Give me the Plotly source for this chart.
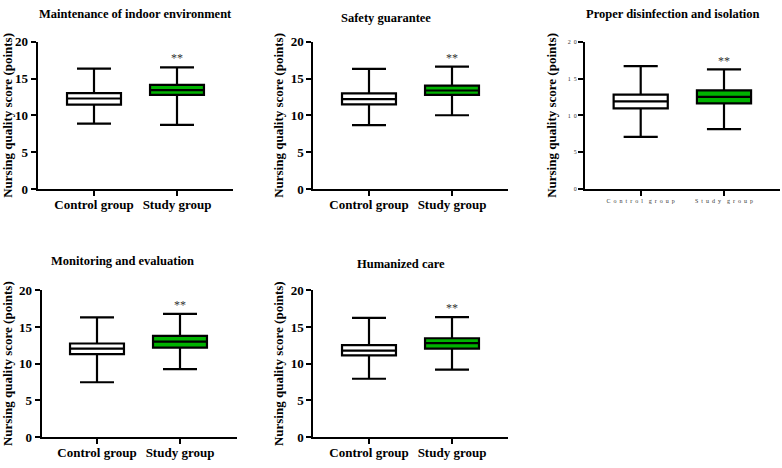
import plotly.graph_objects as go

W, H = 782, 468
groups = ["Control group", "Study group"]
titles = ["Maintenance of indoor environment", "Safety guarantee",
          "Proper disinfection and isolation", "Monitoring and evaluation",
          "Humanized care"]
# per panel: [control, study] stats
lower = [[8.88, 8.71], [8.67, 10.02], [7.08, 8.13], [7.47, 9.27], [7.95, 9.18]]
q1 = [[11.47, 12.78], [11.51, 12.78], [10.95, 11.65], [11.30, 12.18], [11.13, 12.05]]
median = [[12.30, 13.44], [12.21, 13.39], [11.91, 12.53], [12.04, 13.01], [11.79, 12.80]]
q3 = [[13.04, 14.14], [13.00, 14.05], [12.83, 13.41], [12.75, 13.80], [12.54, 13.47]]
upper = [[16.37, 16.54], [16.32, 16.63], [16.70, 16.26], [16.31, 16.79], [16.25, 16.34]]
yticks = [0, 5, 10, 15, 20]
sig = "**"

# pixel geometry of each panel: x-left, x-right, y(20), y(0)
geom = [(37.7, 233, 36, 188), (313.3, 508, 36, 188), (585, 780, 36, 188),
        (41.7, 237, 292.7, 444.3), (313.3, 508, 292.7, 444.3)]
title_pos = [(135, 7), (386, 11), (673, 7), (123, 262), (401, 266)]
tick_px = [(94, 177), (369, 452), (640.7, 724), (97, 180), (369, 452)]

FONT = "Liberation Serif"
fig = go.Figure()
colors = ["white", "#00b300"]


def spaced(s):
    return "\u2003".join("\u2002".join(w) for w in s.split(" "))


for i in range(5):
    xl, xr, yt, yb = geom[i]
    ax = "" if i == 0 else str(i + 1)
    t0, t1 = tick_px[i]
    unit = (t1 - t0)
    r0 = -(t0 - xl) / unit
    r1 = 1 + (xr - t1) / unit
    for g in range(2):
        fig.add_trace(go.Box(
            x=[groups[g]], q1=[q1[i][g]], median=[median[i][g]], q3=[q3[i][g]],
            lowerfence=[lower[i][g]], upperfence=[upper[i][g]],
            fillcolor=colors[g], line=dict(color="black", width=2.2),
            width=0.65, whiskerwidth=0.63, boxpoints=False,
            xaxis="x" + ax, yaxis="y" + ax, showlegend=False, hoverinfo="skip"))
    small = (i == 2)
    fig.update_layout(**{
        "xaxis" + ax: dict(
            domain=[xl / W, xr / W], anchor="y" + ax, type="category",
            categoryarray=groups, range=[r0, r1], showline=True,
            linecolor="black", linewidth=2, ticks="outside", ticklen=5,
            tickwidth=2, tickcolor="black", showgrid=False, zeroline=False,
            tickvals=groups, ticklabelstandoff=0 if small else -3,
            ticktext=([spaced(g) for g in groups] if small else
                      ["<b>%s</b>" % g for g in groups]),
            tickfont=dict(family=FONT, size=6 if small else 13,
                          color="#333333" if small else "black")),
        "yaxis" + ax: dict(
            domain=[1 - yb / H, 1 - yt / H], anchor="x" + ax, range=[0, 20],
            showline=True, linecolor="black", linewidth=2, ticks="outside",
            ticklen=5, tickwidth=2, tickcolor="black", showgrid=False,
            zeroline=False, tickvals=yticks,
            ticktext=([spaced(str(v)) for v in yticks] if small else
                      ["<b>%d</b>" % v for v in yticks]),
            tickfont=dict(family=FONT, size=6 if small else 13,
                          color="#333333" if small else "black"),
            title=dict(text="<b>Nursing quality score (points)</b>",
                       font=dict(family=FONT, size=13, color="black"),
                       standoff=8 if small else 4)),
    })
    tx, ty = title_pos[i]
    fig.add_annotation(x=tx / W, y=1 - ty / H, xref="paper", yref="paper",
                       text="<b>%s</b>" % titles[i], showarrow=False,
                       font=dict(family=FONT, size=12.5, color="black"),
                       xanchor="center", yanchor="middle")
    fig.add_annotation(x=groups[1], y=upper[i][1] + 1.2, xref="x" + ax, yref="y" + ax,
                       text=sig, showarrow=False,
                       font=dict(family=FONT, size=12, color="#333333"),
                       xanchor="center", yanchor="middle")

fig.update_layout(width=W, height=H, margin=dict(l=0, r=0, t=0, b=0),
                  paper_bgcolor="white", plot_bgcolor="white")
fig.write_html("out.html")
